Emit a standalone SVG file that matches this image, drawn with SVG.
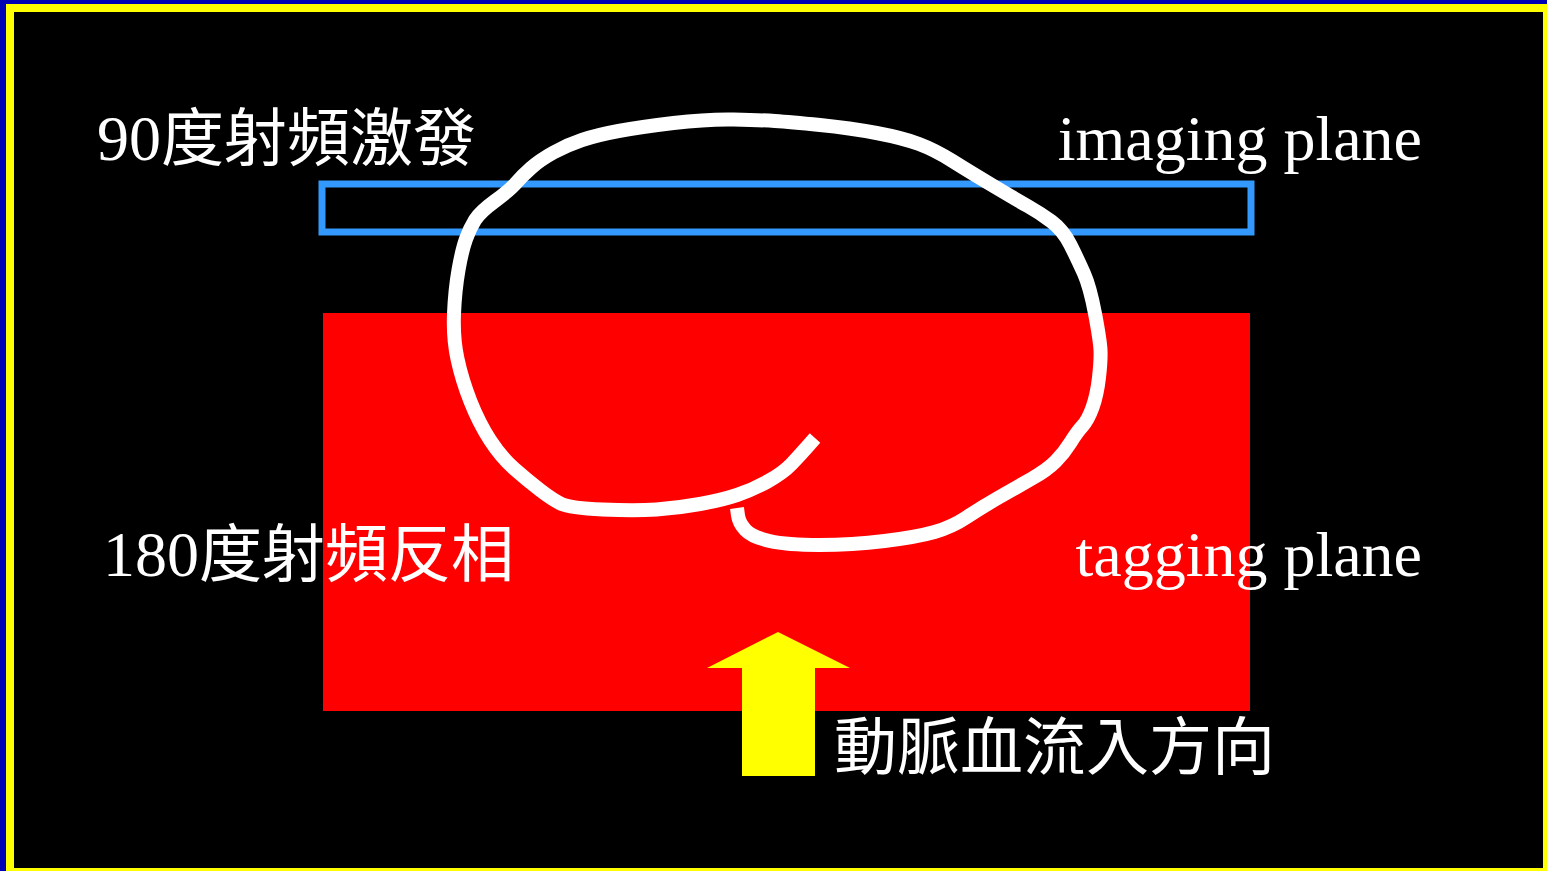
<svg xmlns="http://www.w3.org/2000/svg" width="1547" height="871" viewBox="0 0 1547 871">
  <style>
    .label { fill: #ffffff; font-family: "Liberation Serif", "Noto Sans CJK TC", serif; font-size: 64px; }
    .cjk { font-size: 63px; }
    .end { text-anchor: end; }
  </style>
  <!-- frame -->
  <rect x="0" y="0" width="1547" height="871" fill="#0000b4"/>
  <rect x="6" y="4" width="1541" height="867" fill="#ffff00"/>
  <rect x="14" y="12" width="1529" height="856" fill="#000000"/>

  <g id="tagging-plane">
    <rect x="323" y="313" width="927" height="398" fill="#ff0000"/>
  </g>

  <g id="imaging-plane">
    <rect x="322" y="184" width="929" height="48" fill="none" stroke="#3399ff" stroke-width="7"/>
  </g>

  <!-- freehand vessel loop, smoothed through stroke midpoints -->
  <g id="vessel">
    <path d="M815,438 L807.5,446.5 Q800,455 791.5,464 Q783,473 767.5,481.5 Q752,490 737,495 Q722,500 700,504 Q678,508 656.5,509.5 Q635,511 602.5,509.5 Q570,508 561.5,504 Q553,500 540,490 Q527,480 514,468.5 Q501,457 490,440 Q479,423 470.5,401.5 Q462,380 457.5,359 Q453,338 454,314 Q455,290 458.5,270 Q462,250 466,239 Q470,228 475,220 Q480,212 495,201 Q510,190 516,183 Q522,176 531,168 Q540,160 553.5,152.5 Q567,145 582,140 Q597,135 618.5,131 Q640,127 673.5,123 Q707,119 733.5,119.5 Q760,120 775,121 Q790,122 820,125 Q850,128 876.5,133 Q903,138 919,144 Q935,150 952.5,161 Q970,172 993.5,186 Q1017,200 1028.5,206.5 Q1040,213 1051.5,221.5 Q1063,230 1070.5,245 Q1078,260 1084,273.5 Q1090,287 1095,313.5 Q1100,340 1100.5,350 Q1101,360 1099,377.5 Q1097,395 1092.5,407.5 Q1088,420 1082.5,426 Q1077,432 1070.5,442.5 Q1064,453 1055.5,461.5 Q1047,470 1032,478.5 Q1017,487 999.5,497 Q982,507 967,517 Q952,527 934.5,532 Q917,537 884.5,541 Q852,545 819.5,545 Q787,545 769.5,541 Q752,537 745.5,530 Q739,523 738,515.5 L737,508"
          fill="none" stroke="#ffffff" stroke-width="14" stroke-linejoin="round" stroke-linecap="butt"/>
  </g>

  <g id="flow-arrow">
    <polygon points="778,632 850,668 815,668 815,776 742,776 742,668 707,668" fill="#ffff00"/>
  </g>

  <g id="labels">
    <text class="label" x="97" y="160">90<tspan class="cjk">度射頻激發</tspan></text>
    <text class="label end" x="1422" y="160">imaging plane</text>
    <text class="label" x="103" y="576">180<tspan class="cjk">度射頻反相</tspan></text>
    <text class="label end" x="1422" y="576">tagging plane</text>
    <text class="label cjk" x="834" y="769">動脈血流入方向</text>
  </g>
</svg>
